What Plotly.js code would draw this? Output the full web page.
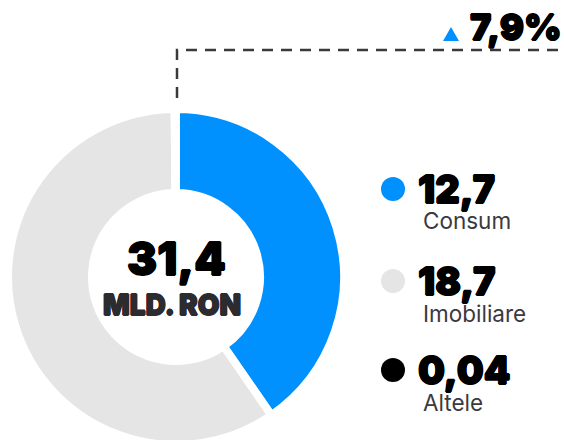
<!DOCTYPE html>
<html><head><meta charset="utf-8">
<script src="https://cdn.plot.ly/plotly-3.0.1.min.js"></script>
<style>html,body{margin:0;padding:0;overflow:hidden;background:#fff;width:564px;height:440px}#chart{width:564px;height:450px}</style>
</head><body><div id="chart"></div>
<script>
const categories = ['Consum', 'Imobiliare', 'Altele'];
const values = [12.7, 18.7, 0.04];
const valueLabels = ['12,7', '18,7', '0,04'];
const colors = ['#0091FF', '#E5E5E5', '#000000'];
const totalLabel = '31,4';
const unitLabel = 'MLD. RON';
const changeLabel = '7,9%';

const W = 564, H = 450;
const px = x => x / W;
const py = y => 1 - y / H;

const cx = 176, cy = 277, R = 168;
const trace = {
  type: 'pie',
  labels: categories,
  values: values,
  sort: false,
  direction: 'clockwise',
  rotation: 0,
  hole: 0.50,
  textinfo: 'none',
  hoverinfo: 'none',
  showlegend: false,
  marker: {colors: colors, line: {color: '#ffffff', width: 8}},
  domain: {x: [px(cx - R), px(cx + R)], y: [py(cy + R), py(cy - R)]}
};

const thick = c => `0.7px 0 0 ${c}, -0.7px 0 0 ${c}, 0 0.7px 0 ${c}, 0 -0.7px 0 ${c}`;
const bold = (size, color) => ({family: 'Inter, sans-serif', weight: 900, size: size, color: color, shadow: thick(color)});
const annotations = [
  {text: totalLabel, x: px(176), y: py(258), font: bold(45, '#000')},
  {text: unitLabel, x: px(172), y: py(305), font: bold(28, '#2b2b30')},
  {text: changeLabel, x: px(468), y: py(27), xanchor: 'left', font: bold(36, '#000')}
];
const shapes = [
  {type: 'path', xref: 'paper', yref: 'paper',
   path: `M ${px(177)} ${py(98)} L ${px(177)} ${py(50)} L ${px(566)} ${py(50)}`,
   line: {color: '#3a3a3e', width: 2.5, dash: '11px,8px'}},
  {type: 'path', xref: 'paper', yref: 'paper',
   path: `M ${px(443)} ${py(41)} L ${px(451)} ${py(27)} L ${px(459)} ${py(41)} Z`,
   fillcolor: colors[0], line: {width: 0}}
];
const rowY = [189, 281, 370];
categories.forEach((c, i) => {
  const y = rowY[i];
  shapes.push({type: 'circle', xref: 'paper', yref: 'paper',
    x0: px(381), x1: px(405), y0: py(y + 12), y1: py(y - 12),
    fillcolor: colors[i], line: {width: 0}});
  annotations.push({text: valueLabels[i], x: px(416), y: py(y), xanchor: 'left',
    font: bold(38, '#000')});
  annotations.push({text: c, x: px(421), y: py(y + 32), xanchor: 'left',
    font: {family: 'Inter, sans-serif', size: 22.5, color: '#3a3a3e'}});
});
annotations.forEach(a => { a.xref = 'paper'; a.yref = 'paper'; a.showarrow = false; if (!a.xanchor) a.xanchor = 'center'; a.yanchor = 'middle'; });

Plotly.newPlot('chart', [trace], {
  width: W, height: H,
  margin: {l: 0, r: 0, t: 0, b: 0},
  paper_bgcolor: '#fff', plot_bgcolor: '#fff',
  showlegend: false,
  annotations: annotations, shapes: shapes
}, {staticPlot: true, displayModeBar: false});
</script></body></html>
